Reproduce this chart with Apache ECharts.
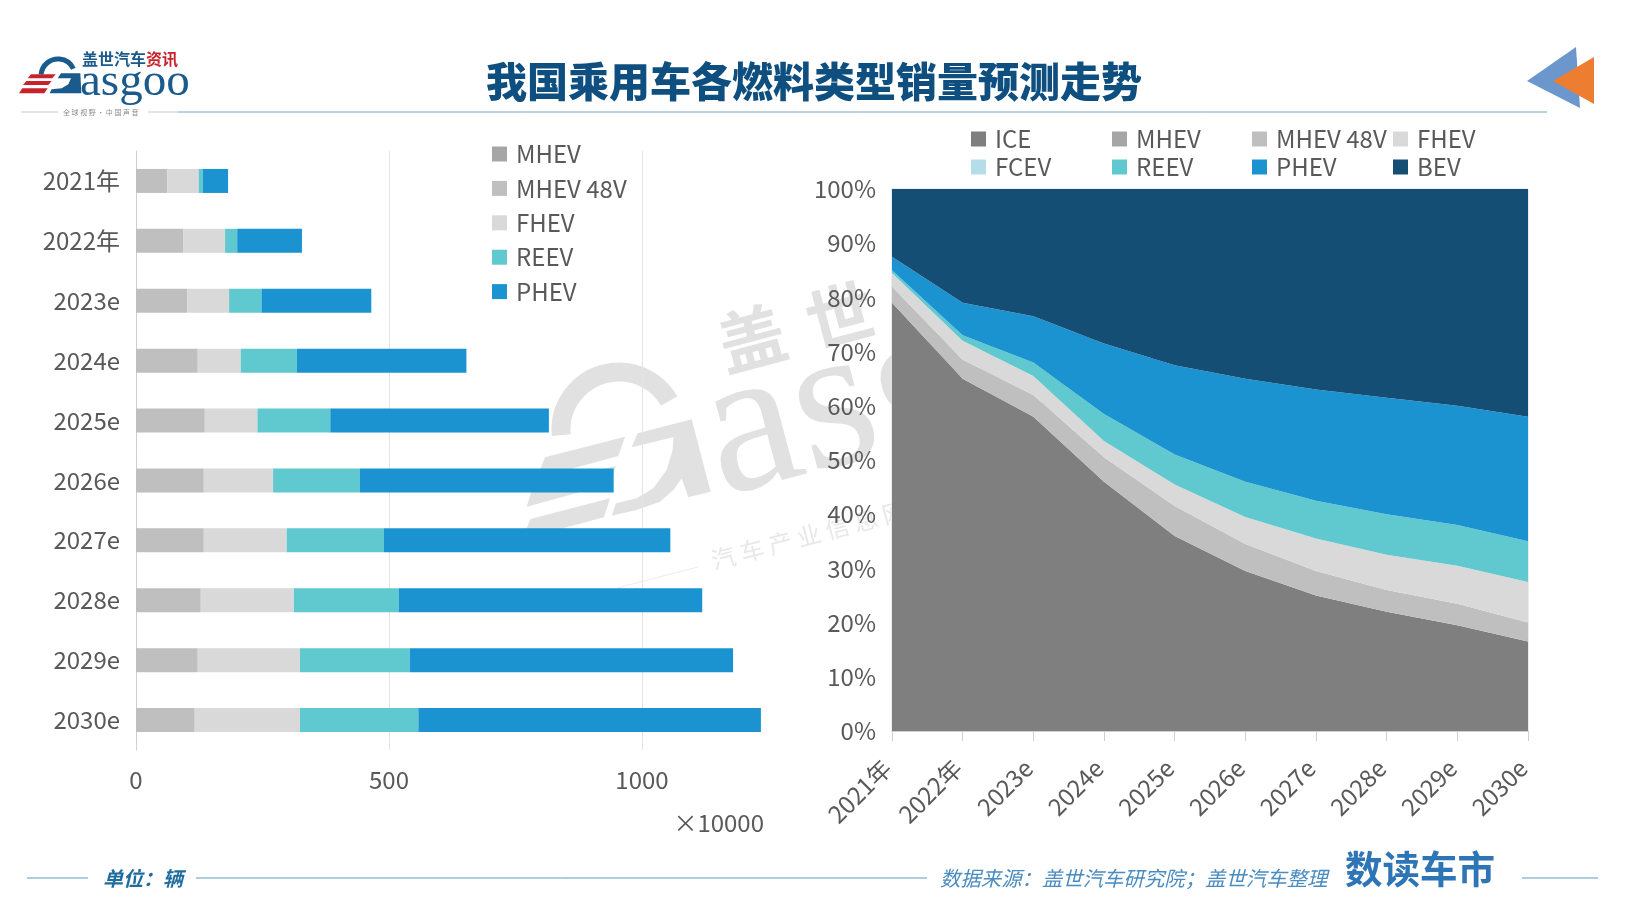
<!DOCTYPE html>
<html><head><meta charset="utf-8">
<style>html,body{margin:0;padding:0;background:#fff}#c{width:1640px;height:922px}</style>
<script src="https://cdn.jsdelivr.net/npm/echarts@6/dist/echarts.min.js"></script>
</head><body><div id="c"></div>
<script>
const barYears = ['2021年','2022年','2023e','2024e','2025e','2026e','2027e','2028e','2029e','2030e'];
const barMhev   = [0,0,0,0,0,0,0,0,0,0];
const barMhev48 = [62,93,101,122,136,134,134,128,122,116];
const barFhev   = [62,83,83,85,104,137,164,184,202,208];
const barReev   = [8,24,64,111,144,171,192,207,217,234];
const barPhev   = [50,128,217,335,432,502,566,600,639,677];

const areaYears = barYears;
const shareIce    = [79,65,58,46,36,29.5,25,22,19.5,16.5];
const shareMhev   = [0,0,0,0,0,0,0,0,0,0];
const shareMhev48 = [3,3.5,4,4.5,5.5,5,4.5,4,4,3.5];
const shareFhev   = [2.5,3.5,3.5,3,4,5,6,6.5,7,7.5];
const shareFcev   = [0,0,0,0,0,0,0,0,0,0];
const shareReev   = [0.5,1,2.5,5,5.5,6.5,7,7.5,7.5,7.5];
const sharePhev   = [2.5,6,8.5,13,16.5,19,20.5,21.5,22,23];
const shareBev    = [12.5,21,23.5,28.5,32.5,35,37,38.5,40,42];

const colors = {ICE:'#7f7f7f',MHEV:'#a6a6a6','MHEV 48V':'#bfbfbf',FHEV:'#d9d9d9',FCEV:'#b4dde9',REEV:'#5fc9cf',PHEV:'#1b93d1',BEV:'#154e75'};
const FONT = '"Noto Sans CJK SC","Noto Sans",sans-serif';
const SERIF = '"Liberation Serif",serif';
const TXT = '#595959';

function bar(name,data){return {type:'bar',name,data,stack:'b',xAxisIndex:0,yAxisIndex:0,barWidth:24,itemStyle:{color:colors[name]},z:3};}
function area(name,data){return {type:'line',name,data,stack:'a',xAxisIndex:1,yAxisIndex:1,showSymbol:false,symbol:'none',lineStyle:{width:0},areaStyle:{color:colors[name],opacity:1},itemStyle:{color:colors[name]},z:3};}
function leg(left,top,names,gap){return {left,top,orient:'vertical',data:names,itemWidth:15,itemHeight:15,itemGap:gap,icon:'rect',selectedMode:false,textStyle:{color:TXT,fontSize:24,fontFamily:FONT,padding:[0,0,0,4]}};}

const WM='#e1e1e1';
const poly=(points,fill,z)=>({type:'polygon',z:z||0,shape:{points},style:{fill}});
function txt(x,y,text,o){
  return {type:'text',x,y,z:o.z===undefined?1:o.z,rotation:o.rot||0,style:{text,fontFamily:o.family||FONT,fontSize:o.size,fontWeight:o.weight||'normal',fontStyle:o.italic?'italic':'normal',fill:o.fill||TXT,align:o.align||'left',verticalAlign:'middle'}};
}
const line=(x1,x2,y,stroke)=>({type:'line',z:1,shape:{x1,y1:y,x2,y2:y},style:{stroke,lineWidth:1}});
const BLUE='#1b5a8c', RED='#c8232c';

const wmPoly=(pts)=>poly(pts.map(p=>[510+p[0]/3,350+p[1]/3]),WM,0);
const logoPoly=(pts,fill)=>poly(pts.map(p=>[15+p[0]/3,45+p[1]/3]),fill,1);

const graphic=[
 // watermark
 {type:'arc',z:0,shape:{cx:619,cy:430,r:58,startAngle:175*Math.PI/180,endAngle:330*Math.PI/180,clockwise:true},style:{stroke:WM,fill:null,lineWidth:19}},
 wmPoly([[105,322],[345,260],[325,318],[80,385]]),
 wmPoly([[70,405],[318,348],[300,402],[50,470]]),
 wmPoly([[62,507],[300,445],[282,502],[35,568]]),
 wmPoly([[365,292],[383,250],[545,208],[602,425],[535,442],[515,385],[490,420],[450,455],[380,480],[305,497],[318,460],[380,445],[430,415],[470,360],[488,300],[490,262]]),
 txt(708,444,'asgoo',{rot:0.26,size:205,family:SERIF,fill:WM,z:0}),
 txt(719,347,'盖',{rot:0.26,size:68,weight:'bold',fill:WM,z:0}),
 txt(807,324,'世',{rot:0.26,size:68,weight:'bold',fill:WM,z:0}),
 txt(712,561,'汽 车 产 业 信 息 网',{rot:0.26,size:24,fill:'#e8e8e8',z:0}),
 {type:'line',z:0,shape:{x1:617,y1:588,x2:698,y2:567},style:{stroke:'#ececec',lineWidth:1}},
 // header
 txt(814,81,'我国乘用车各燃料类型销量预测走势',{size:41,weight:900,fill:'#0f4f80',align:'center'}),
 line(178,1547,112,'#7ba3bf'),
 line(21,58,112,'#c8c8c8'),
 line(148,178,112,'#c8c8c8'),
 txt(63,112,'全 球 视 野 · 中 国 声 音',{size:7,fill:'#8c8c8c'}),
 // logo
 txt(82,59,'盖世汽车',{size:16,weight:'bold',fill:BLUE}),
 txt(146,59,'资讯',{size:16,weight:'bold',fill:RED}),
 {type:'arc',z:1,shape:{cx:58,cy:76,r:17,startAngle:185*Math.PI/180,endAngle:335*Math.PI/180,clockwise:true},style:{stroke:BLUE,fill:null,lineWidth:5}},
 logoPoly([[48,88],[122,88],[112,100],[38,100]],RED),
 logoPoly([[34,108],[110,108],[100,120],[24,120]],RED),
 logoPoly([[22,130],[98,130],[88,145],[12,145]],RED),
 logoPoly([[128,100],[138,85],[196,85],[199,145],[104,145],[110,133],[140,130],[160,118],[168,100]],BLUE),
 txt(80,83,'asgoo',{size:47,family:SERIF,fill:BLUE}),
 // triangles
 poly([[1527,81],[1576,47],[1580,108]],'#6b97cd',1),
 poly([[1553,81],[1594,57],[1594,104]],'#ed7d31',1),
 // x unit
 txt(764,823,'×10000',{size:24,align:'right'}),
 // footer
 line(27,88,878,'#5b9bbd'),line(196,927,878,'#5b9bbd'),line(1522,1598,878,'#5b9bbd'),
 txt(103,878,'单位：辆',{size:20,weight:'bold',italic:true,fill:'#1f6d9f'}),
 txt(940,878,'数据来源：盖世汽车研究院；盖世汽车整理',{size:20.4,italic:true,fill:'#4a8cc0'}),
 txt(1345,869,'数读车市',{size:37.5,weight:'bold',fill:'#2e75b6'})
];

const option={
 animation:false,
 backgroundColor:'#fff',
 textStyle:{fontFamily:FONT},
 graphic,
 legend:[
  leg(487,137,['MHEV','MHEV 48V','FHEV','REEV','PHEV'],10.4),
  leg(966,122,['ICE','FCEV'],4),
  leg(1107,122,['MHEV','REEV'],4),
  leg(1247,122,['MHEV 48V','PHEV'],4),
  leg(1388,122,['FHEV','BEV'],4)
 ],
 grid:[
  {left:136,top:151,width:632.5,height:599,containLabel:false},
  {left:892,top:189,width:636,height:542,containLabel:false,show:true,borderColor:'#d5dce2',borderWidth:1}
 ],
 xAxis:[
  {type:'value',gridIndex:0,min:0,max:1250,interval:500,z:2,
   axisLine:{show:false},axisTick:{show:false},
   axisLabel:{color:TXT,fontSize:24,fontFamily:FONT,margin:18,showMaxLabel:false,formatter:v=>String(v)},
   splitLine:{show:true,showMaxLine:false,lineStyle:{color:'#e4e4e4',width:1}}},
  {type:'category',gridIndex:1,data:areaYears,boundaryGap:false,z:5,
   axisLine:{show:true,lineStyle:{color:'#cfcfcf'}},axisTick:{show:true,length:10,lineStyle:{color:'#cfcfcf'}},
   axisLabel:{color:TXT,fontSize:24,fontFamily:FONT,rotate:45,margin:28,padding:[0,7,0,0],interval:0,showMinLabel:true,showMaxLabel:true}}
 ],
 yAxis:[
  {type:'category',gridIndex:0,data:barYears,inverse:true,z:2,
   axisLine:{show:true,lineStyle:{color:'#cfcfcf'}},axisTick:{show:false},
   axisLabel:{color:TXT,fontSize:24,fontFamily:FONT,margin:16}},
  {type:'value',gridIndex:1,min:0,max:100,interval:10,z:5,
   axisLine:{show:false},axisTick:{show:false},
   axisLabel:{color:TXT,fontSize:24,fontFamily:FONT,margin:16,padding:[0,0,3,0],formatter:'{value}%'},
   splitLine:{show:false}}
 ],
 series:[
  bar('MHEV',barMhev),bar('MHEV 48V',barMhev48),bar('FHEV',barFhev),bar('REEV',barReev),bar('PHEV',barPhev),
  area('ICE',shareIce),area('MHEV',shareMhev),area('MHEV 48V',shareMhev48),area('FHEV',shareFhev),
  area('FCEV',shareFcev),area('REEV',shareReev),area('PHEV',sharePhev),area('BEV',shareBev)
 ]
};
echarts.init(document.getElementById('c'),null,{renderer:'canvas'}).setOption(option);
</script></body></html>
